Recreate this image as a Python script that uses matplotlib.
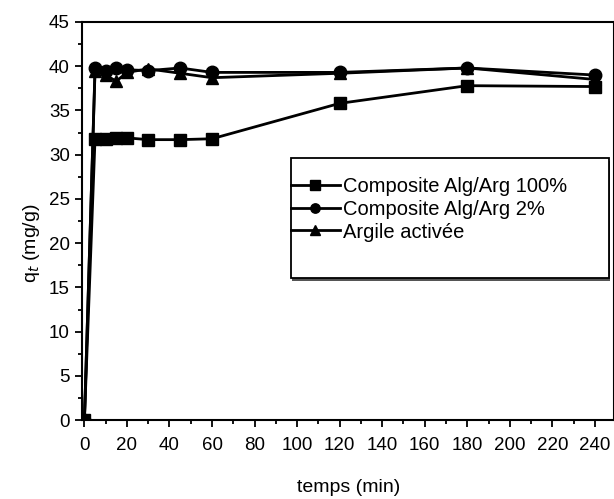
import numpy as np
import matplotlib
matplotlib.use('Agg')
import matplotlib.pyplot as plt
from matplotlib.ticker import MultipleLocator
from matplotlib.patches import Rectangle

plt.rcParams['font.family'] = ['Liberation Sans', 'DejaVu Sans']

temps = [0, 5, 10, 15, 20, 30, 45, 60, 120, 180, 240]
comp_100 = [0, 31.8, 31.8, 31.9, 31.9, 31.7, 31.7, 31.8, 35.8, 37.8, 37.7]
comp_2 = [0, 39.8, 39.5, 39.8, 39.6, 39.5, 39.8, 39.3, 39.3, 39.8, 39.0]
argile = [0, 39.5, 39.0, 38.3, 39.3, 39.7, 39.2, 38.7, 39.2, 39.8, 38.5]

labels = ['Composite Alg/Arg 100%', 'Composite Alg/Arg 2%', 'Argile activée']

fig = plt.figure(figsize=(6.14, 4.99), dpi=100)
ax = fig.add_axes([0.134, 0.158, 0.866, 0.798])

ax.plot(temps, comp_100, '-s', color='black', lw=2, ms=9, label=labels[0])
ax.plot(temps, comp_2, '-o', color='black', lw=2, ms=9, label=labels[1])
ax.plot(temps, argile, '-^', color='black', lw=2, ms=9, label=labels[2])

ax.set_xlim(-1, 249)
ax.set_ylim(0, 45)
ax.xaxis.set_major_locator(MultipleLocator(20))
ax.xaxis.set_minor_locator(MultipleLocator(10))
ax.yaxis.set_major_locator(MultipleLocator(5))
ax.yaxis.set_minor_locator(MultipleLocator(2.5))
ax.tick_params(which='both', direction='out', labelsize=13.5, width=1.3)
ax.tick_params(axis='x', pad=7)
ax.tick_params(axis='y', pad=4)
ax.tick_params(which='major', length=5)
ax.tick_params(which='minor', length=3)
for s in ax.spines.values():
    s.set_linewidth(1.5)

ax.set_xlabel('temps (min)', fontsize=14, labelpad=18)
ax.set_ylabel('q$_t$ (mg/g)', fontsize=14)
ax.yaxis.set_label_coords(-0.076, 0.445)

# legend box with shadow
shadow = Rectangle((0.394, 0.350), 0.599, 0.301, transform=ax.transAxes,
                   facecolor='#555555', edgecolor='none', zorder=4)
box = Rectangle((0.392, 0.357), 0.599, 0.301, transform=ax.transAxes,
                facecolor='white', edgecolor='black', lw=1.3, zorder=5)
ax.add_patch(shadow)
ax.add_patch(box)

leg = ax.legend(loc='upper left', bbox_to_anchor=(0.393, 0.61), fontsize=14.5,
                handlelength=2.4, handletextpad=0.15, labelspacing=0.18,
                borderpad=0, borderaxespad=0, frameon=False, markerscale=0.75)
leg.set_zorder(6)

plt.savefig('out.png', dpi=100)
